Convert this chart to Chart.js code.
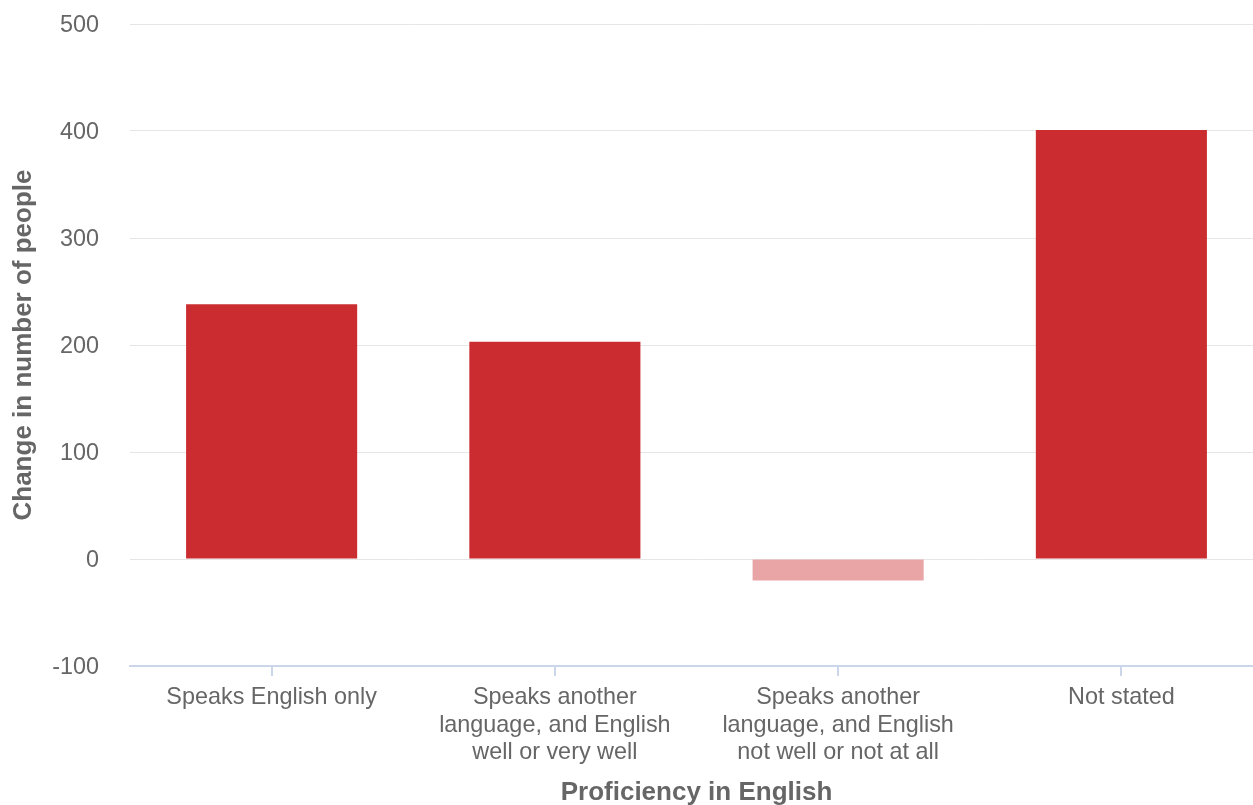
<!DOCTYPE html>
<html>
<head>
<meta charset="utf-8">
<script src="https://cdn.jsdelivr.net/npm/chart.js@4/dist/chart.umd.min.js"></script>
<style>
  html, body { margin: 0; padding: 0; background: #fff; }
  #recorte { width: 1253px; height: 805px; overflow: hidden; }
  #wrap { width: 1263px; height: 805px; position: relative; }
</style>
</head>
<body>
<div id="recorte"><div id="wrap"><canvas id="grafico"></canvas></div></div>
<script>
// Datos
const categorias = [
    ["Speaks English only"],
    ["Speaks another", "language, and English", "well or very well"],
    ["Speaks another", "language, and English", "not well or not at all"],
    ["Not stated"]
];
const cambios = [238, 203, -20, 401];
const yMin = -100;
const yMax = 500;
const yPaso = 100;

const ROJO = "#cb2c30";
const ROSA = "#e9a4a6";
const GRIS = "#666666";
const FUENTE = "'Liberation Sans', Arial, sans-serif";

new Chart(document.getElementById("grafico"), {
    type: "bar",
    data: {
        labels: categorias,
        datasets: [{
            label: "Change in number of people",
            data: cambios,
            backgroundColor: (ctx) => (ctx.raw < 0 ? ROSA : ROJO),
            borderWidth: 0,
            barPercentage: 0.604,
            categoryPercentage: 1,
        }],
    },
    options: {
        responsive: true,
        maintainAspectRatio: false,
        animation: false,
        layout: { padding: { top: 24, left: 8, right: 0, bottom: 0 } },
        plugins: {
            legend: { display: false },
            tooltip: { enabled: false },
        },
        scales: {
            x: {
                grid: {
                    offset: false,
                    drawOnChartArea: false,
                    drawTicks: true,
                    tickLength: 10,
                    color: "#ccd6eb",
                    lineWidth: 2,
                },
                border: { display: true, color: "#ccd6eb", width: 2 },
                ticks: {
                    color: GRIS,
                    maxRotation: 0,
                    autoSkip: false,
                    padding: 8,
                    font: { family: FUENTE, size: 23.4, lineHeight: 1.175 },
                },
                title: {
                    display: true,
                    text: "Proficiency in English",
                    color: GRIS,
                    padding: 0,
                    font: { family: FUENTE, size: 26, weight: "bold", lineHeight: 0.9 },
                },
                afterFit: (scale) => { scale.height = 139; },
            },
            y: {
                min: yMin,
                max: yMax,
                grid: { color: "#e6e6e6", lineWidth: 1, drawTicks: false },
                border: { display: false },
                ticks: {
                    stepSize: yPaso,
                    color: GRIS,
                    padding: 31,
                    labelOffset: 2,
                    font: { family: FUENTE, size: 23.4 },
                },
                title: {
                    display: true,
                    text: "Change in number of people",
                    color: GRIS,
                    padding: 0,
                    font: { family: FUENTE, size: 26, weight: "bold", lineHeight: 1.2 },
                },
                afterFit: (scale) => {
                    scale.width = 122;
                    // el padding de las etiquetas no debe empujar el área del gráfico
                    scale.paddingTop = 0;
                    scale.paddingBottom = 0;
                },
            },
        },
    },
});
</script>
</body>
</html>
